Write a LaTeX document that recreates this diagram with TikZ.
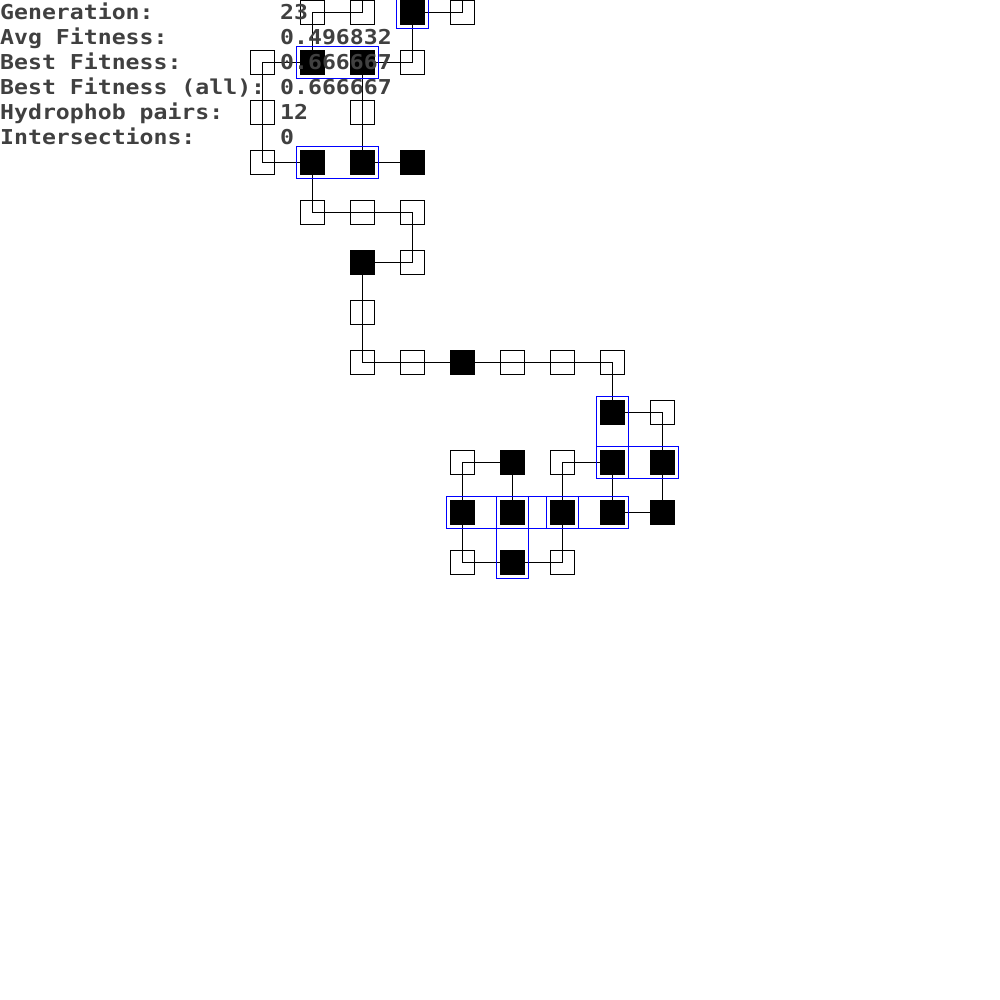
\documentclass[tikz,border=0pt]{standalone}
\usepackage{fontspec}
\usepackage{xcolor}
\usetikzlibrary{positioning, fit, backgrounds}
\newfontfamily\statfont[FakeStretch=1.13]{DejaVu Sans Mono}
\definecolor{statgray}{RGB}{64,64,64}
\definecolor{pairblue}{RGB}{0,0,255}

\begin{document}
\begin{tikzpicture}[x=50pt, y=-50pt,
    polar/.style={rectangle, draw=black, line width=1pt, minimum size=23.3pt, inner sep=0pt},
    hydro/.style={rectangle, fill=black, minimum size=25pt, inner sep=0pt},
    bond/.style={black, line width=1pt},
    contact/.style={rectangle, draw=pairblue, line width=1pt, inner sep=3pt},
    stat/.style={anchor=base west, inner sep=0pt, text=statgray, font=\statfont\bfseries\fontsize{20.5}{20.5}\selectfont}]
    \useasboundingbox (0,0) rectangle (20,20);

    % Residues, first strand (ends run off the top)
    \begin{scope}[shift={(0.25,0.25)}]
        \coordinate (offA) at (7,-1);
        \node[polar] (r1) at (7,0) {};
        \node[polar] (r2) at (6,0) {};
        \node[hydro] (r3) at (6,1) {};
        \node[polar] (r4) at (5,1) {};
        \node[polar] (r5) at (5,2) {};
        \node[polar] (r6) at (5,3) {};
        \node[hydro] (r7) at (6,3) {};
        \node[polar] (r8) at (6,4) {};
        \node[polar] (r9) at (7,4) {};
        \node[polar] (r10) at (8,4) {};
        \node[polar] (r11) at (8,5) {};
        \node[hydro] (r12) at (7,5) {};
        \node[polar] (r13) at (7,6) {};
        \node[polar] (r14) at (7,7) {};
        \node[polar] (r15) at (8,7) {};
        \node[hydro] (r16) at (9,7) {};
        \node[polar] (r17) at (10,7) {};
        \node[polar] (r18) at (11,7) {};
        \node[polar] (r19) at (12,7) {};
        \node[hydro] (r20) at (12,8) {};
        \node[polar] (r21) at (13,8) {};
        \node[hydro] (r22) at (13,9) {};
        \node[hydro] (r23) at (13,10) {};
        \node[hydro] (r24) at (12,10) {};
        \node[hydro] (r25) at (12,9) {};
        \node[polar] (r26) at (11,9) {};
        \node[hydro] (r27) at (11,10) {};
        \node[polar] (r28) at (11,11) {};
        \node[hydro] (r29) at (10,11) {};
        \node[polar] (r30) at (9,11) {};
        \node[hydro] (r31) at (9,10) {};
        \node[polar] (r32) at (9,9) {};
        \node[hydro] (r33) at (10,9) {};
        \node[hydro] (r34) at (10,10) {};

        % Second strand
        \coordinate (offB) at (9,-1);
        \node[polar] (q1) at (9,0) {};
        \node[hydro] (q2) at (8,0) {};
        \node[polar] (q3) at (8,1) {};
        \node[hydro] (q4) at (7,1) {};
        \node[polar] (q5) at (7,2) {};
        \node[hydro] (q6) at (7,3) {};
        \node[hydro] (q7) at (8,3) {};
    \end{scope}

    % Backbone bonds
    \begin{scope}[on background layer]
        \draw[bond] (offA) -- (r1.center) -- (r2.center) -- (r3.center) -- (r4.center) -- (r5.center)
            -- (r6.center) -- (r7.center) -- (r8.center) -- (r9.center) -- (r10.center) -- (r11.center)
            -- (r12.center) -- (r13.center) -- (r14.center) -- (r15.center) -- (r16.center) -- (r17.center)
            -- (r18.center) -- (r19.center) -- (r20.center) -- (r21.center) -- (r22.center) -- (r23.center)
            -- (r24.center) -- (r25.center) -- (r26.center) -- (r27.center) -- (r28.center) -- (r29.center)
            -- (r30.center) -- (r31.center) -- (r32.center) -- (r33.center) -- (r34.center);
        \draw[bond] (offB) -- (q1.center) -- (q2.center) -- (q3.center) -- (q4.center) -- (q5.center)
            -- (q6.center) -- (q7.center);
    \end{scope}

    % Hydrophobic contacts
    \coordinate (offC) at (8.25,-1);
    \node[contact, fit=(r3)(q4)] (hh1) {};
    \node[contact, fit=(q2)(offC)] (hh2) {};
    \node[contact, fit=(r7)(q6)] (hh3) {};
    \node[contact, fit=(r20)(r25)] (hh4) {};
    \node[contact, fit=(r25)(r22)] (hh5) {};
    \node[contact, fit=(r31)(r34)] (hh6) {};
    \node[contact, fit=(r34)(r27)] (hh7) {};
    \node[contact, fit=(r27)(r24)] (hh8) {};
    \node[contact, fit=(r34)(r29)] (hh9) {};

    % Statistics
    \node[stat] (genl) at (0,0.39) {Generation:};
    \node[stat] (avgl) at (0,0.89) {Avg Fitness:};
    \node[stat] (bestl) at (0,1.39) {Best Fitness:};
    \node[stat] (alll) at (0,1.89) {Best Fitness (all):};
    \node[stat] (pairl) at (0,2.39) {Hydrophob pairs:};
    \node[stat] (intl) at (0,2.89) {Intersections:};
    \node[stat] (genv) at (5.6,0.39) {23};
    \node[stat] (avgv) at (5.6,0.89) {0.496832};
    \node[stat] (bestv) at (5.6,1.39) {0.666667};
    \node[stat] (allv) at (5.6,1.89) {0.666667};
    \node[stat] (pairv) at (5.6,2.39) {12};
    \node[stat] (intv) at (5.6,2.89) {0};
\end{tikzpicture}
\end{document}
